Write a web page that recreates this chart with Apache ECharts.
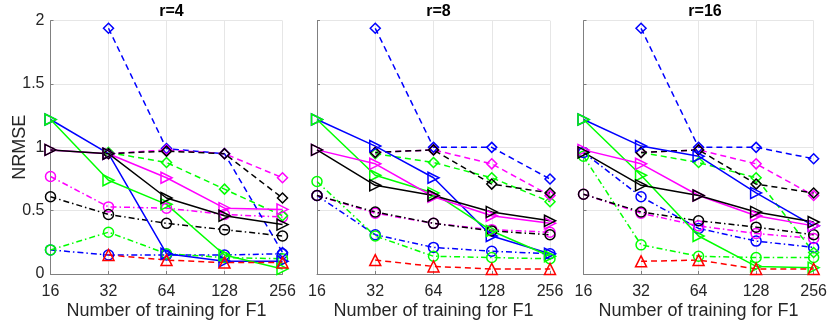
<!DOCTYPE html>
<html>
<head>
<meta charset="utf-8">
<script src="https://cdn.jsdelivr.net/npm/echarts@6/dist/echarts.min.js"></script>
<style>
html, body { margin: 0; padding: 0; background: #fff; }
#chart { width: 830px; height: 325px; }
</style>
</head>
<body>
<div id="chart"></div>
<script>
const sizes = ['16', '32', '64', '128', '256']
const panelTitles = ['r=4', 'r=8', 'r=16']
const yTicks = [0, 0.5, 1, 1.5, 2]

// one row per panel: r=4, r=8, r=16
const blueDot = [
  [0.19, 0.15, 0.15, 0.15, 0.16],
  [0.62, 0.31, 0.21, 0.18, 0.16],
  [0.96, 0.61, 0.36, 0.26, 0.21]
]
const greenDot = [
  [0.19, 0.33, 0.16, 0.13, 0.12],
  [0.73, 0.30, 0.14, 0.13, 0.12],
  [0.93, 0.23, 0.14, 0.13, 0.13]
]
const magentaDot = [
  [0.77, 0.53, 0.52, 0.47, 0.45],
  [0.62, 0.48, 0.40, 0.35, 0.33],
  [0.63, 0.48, 0.38, 0.32, 0.28]
]
const blackDot = [
  [0.61, 0.47, 0.40, 0.35, 0.30],
  [0.62, 0.49, 0.40, 0.34, 0.31],
  [0.63, 0.49, 0.42, 0.37, 0.31]
]
const blueDash = [
  [null, 1.94, 0.99, 0.95, 0.17],
  [null, 1.94, 1.00, 1.00, 0.75],
  [null, 1.94, 1.00, 1.00, 0.91]
]
const greenDash = [
  [null, 0.96, 0.88, 0.67, 0.46],
  [null, 0.95, 0.88, 0.76, 0.57],
  [null, 0.96, 0.88, 0.76, 0.17]
]
const magentaDash = [
  [null, 0.95, 0.98, 0.95, 0.76],
  [null, 0.96, 0.98, 0.87, 0.62],
  [null, 0.96, 0.98, 0.87, 0.62]
]
const blackDash = [
  [null, 0.95, 0.97, 0.95, 0.60],
  [null, 0.96, 0.98, 0.71, 0.64],
  [null, 0.96, 0.98, 0.71, 0.64]
]
const blueSolid = [
  [1.22, 0.95, 0.16, 0.10, 0.10],
  [1.22, 1.01, 0.76, 0.30, 0.16],
  [1.22, 1.01, 0.93, 0.64, 0.38]
]
const greenSolid = [
  [1.22, 0.74, 0.55, 0.15, 0.04],
  [1.22, 0.78, 0.64, 0.34, 0.14],
  [1.22, 0.78, 0.30, 0.06, 0.05]
]
const magentaSolid = [
  [0.98, 0.95, 0.76, 0.52, 0.51],
  [0.98, 0.87, 0.61, 0.46, 0.40],
  [0.98, 0.87, 0.62, 0.46, 0.38]
]
const blackSolid = [
  [0.98, 0.95, 0.60, 0.46, 0.39],
  [0.98, 0.70, 0.62, 0.49, 0.42],
  [0.96, 0.70, 0.62, 0.49, 0.41]
]
const redDash = [
  [null, 0.15, 0.11, 0.09, 0.09],
  [null, 0.11, 0.06, 0.04, 0.04],
  [null, 0.10, 0.11, 0.04, 0.04]
]

const DASH = [6, 4]
const DASHDOT = [6, 3, 1.5, 3]
const FONT = 'Liberation Sans'

const lines = [
  { data: blueDot, color: '#0000ff', type: DASHDOT, symbol: 'circle' },
  { data: greenDot, color: '#00ff00', type: DASHDOT, symbol: 'circle' },
  { data: magentaDot, color: '#ff00ff', type: DASHDOT, symbol: 'circle' },
  { data: blackDot, color: '#000000', type: DASHDOT, symbol: 'circle' },
  { data: blueDash, color: '#0000ff', type: DASH, symbol: 'diamond' },
  { data: greenDash, color: '#00ff00', type: DASH, symbol: 'diamond' },
  { data: magentaDash, color: '#ff00ff', type: DASH, symbol: 'diamond' },
  { data: blackDash, color: '#000000', type: DASH, symbol: 'diamond' },
  { data: blueSolid, color: '#0000ff', type: 'solid', symbol: 'triangle', rotate: -90 },
  { data: greenSolid, color: '#00ff00', type: 'solid', symbol: 'triangle', rotate: -90 },
  { data: magentaSolid, color: '#ff00ff', type: 'solid', symbol: 'triangle', rotate: -90 },
  { data: blackSolid, color: '#000000', type: 'solid', symbol: 'triangle', rotate: -90 },
  { data: redDash, color: '#ff0000', type: DASH, symbol: 'triangle' }
]

const lefts = [50.5, 317, 583.5]
const widths = [232, 233, 233]

const grids = []
const xAxes = []
const yAxes = []
const titles = []
const series = []

for (let p = 0; p < 3; p++) {
  grids.push({ left: lefts[p], top: 20.7, width: widths[p], height: 255 })
  titles.push({
    text: panelTitles[p],
    left: lefts[p] + widths[p] / 2,
    textAlign: 'center',
    top: -1,
    textStyle: { fontFamily: FONT, fontSize: 16, fontWeight: 'bold', color: '#000' }
  })
  xAxes.push({
    gridIndex: p,
    type: 'category',
    data: sizes,
    boundaryGap: false,
    name: 'Number of training for F1',
    nameLocation: 'middle',
    nameGap: 28,
    nameMoveOverlap: false,
    nameTextStyle: { fontFamily: FONT, fontSize: 18, color: '#262626' },
    axisLine: { lineStyle: { color: '#808080', width: 1 } },
    axisTick: { inside: true, length: 3, lineStyle: { color: '#808080' } },
    axisLabel: { fontFamily: FONT, fontSize: 16, color: '#262626', margin: 10 },
    splitLine: { show: true, lineStyle: { color: '#e6e6e6', width: 1 } }
  })
  yAxes.push({
    gridIndex: p,
    type: 'value',
    min: yTicks[0],
    max: yTicks[yTicks.length - 1],
    interval: 0.5,
    name: p === 0 ? 'NRMSE' : '',
    nameLocation: 'middle',
    nameGap: 21,
    nameMoveOverlap: false,
    nameTextStyle: { fontFamily: FONT, fontSize: 18, color: '#262626' },
    axisLine: { show: true, lineStyle: { color: '#808080', width: 1 } },
    axisTick: { show: true, inside: true, length: 3, lineStyle: { color: '#808080' } },
    axisLabel: { show: p === 0, fontFamily: FONT, fontSize: 16, color: '#262626', margin: 6 },
    splitLine: { show: true, lineStyle: { color: '#e6e6e6', width: 1 } }
  })
  lines.forEach(function (s) {
    series.push({
      type: 'line',
      xAxisIndex: p,
      yAxisIndex: p,
      data: s.data[p],
      symbol: s.symbol,
      symbolSize: s.symbol === 'triangle' ? 11 : 10,
      symbolRotate: s.rotate || 0,
      showAllSymbol: true,
      lineStyle: { color: s.color, width: 1.5, type: s.type },
      itemStyle: { color: 'rgba(0,0,0,0)', borderColor: s.color, borderWidth: 1.5 },
      emphasis: { disabled: true },
      silent: true
    })
  })
}

const chart = echarts.init(document.getElementById('chart'))
chart.setOption({
  animation: false,
  backgroundColor: '#fff',
  title: titles,
  grid: grids,
  xAxis: xAxes,
  yAxis: yAxes,
  series: series
})
</script>
</body>
</html>
